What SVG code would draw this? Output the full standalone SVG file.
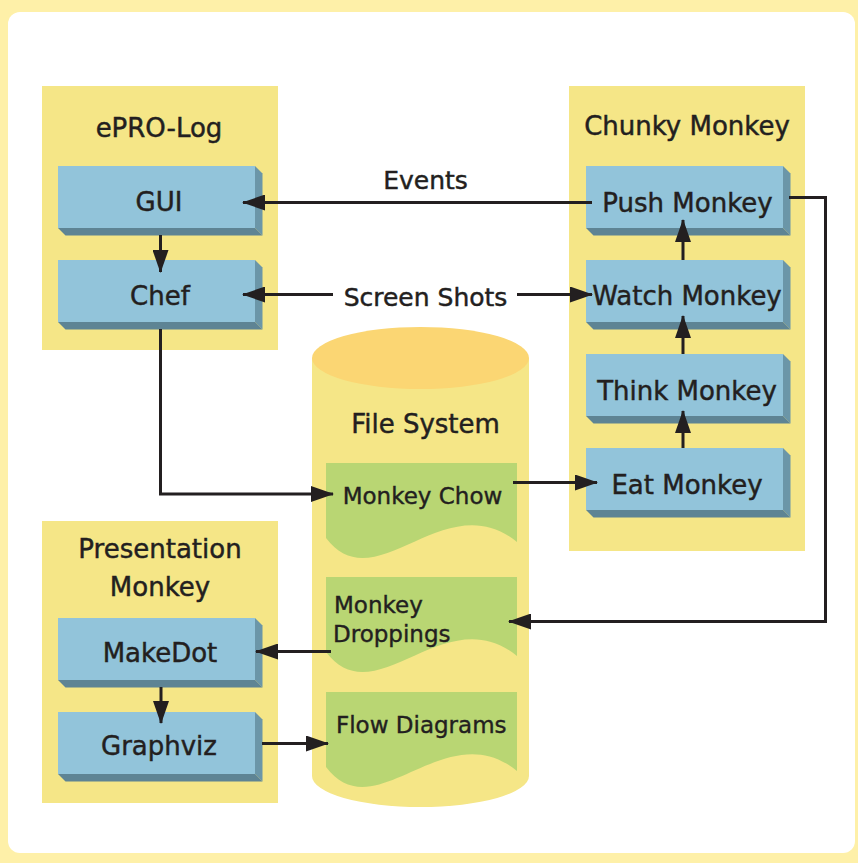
<svg xmlns="http://www.w3.org/2000/svg" width="858" height="863" viewBox="0 0 858 863">
<defs>
<style>
.panel{fill:#f5e687}
.front{fill:#92c4da}
.side{fill:#6b96a8}
.bot{fill:#5e8494}
.doc{fill:#b9d673}
.t{font-family:"DejaVu Sans",sans-serif;font-size:26px;fill:#231f20;stroke:#231f20;stroke-width:0.45;text-anchor:middle}
.tl{font-family:"DejaVu Sans",sans-serif;font-size:23px;fill:#231f20;stroke:#231f20;stroke-width:0.4}
.ca{stroke:#231f20;stroke-width:3;fill:none;marker-end:url(#ah)}
</style>
<marker id="ah" markerUnits="userSpaceOnUse" markerWidth="23" markerHeight="16" refX="22" refY="8" orient="auto" viewBox="0 0 23 16">
<path d="M0,0 L23,8 L0,16 Z" fill="#231f20"/>
</marker>
<g id="box3d">
<rect class="front" x="0" y="0" width="197" height="62"/>
<polygon class="side" points="197,0 204.5,7.5 204.5,69.5 197,62"/>
<polygon class="bot" points="0,62 197,62 204.5,69.5 7.5,69.5"/>
</g>
</defs>
<rect x="0" y="0" width="858" height="863" fill="#fef0a8"/>
<rect x="8" y="12" width="847" height="841" rx="12" fill="#ffffff"/>

<g id="epro-log">
<rect class="panel" x="42" y="86" width="236" height="264"/>
<text class="t" x="159" y="137">ePRO-Log</text>
</g>
<g id="chunky-monkey">
<rect class="panel" x="569" y="86" width="236" height="465"/>
<text class="t" x="687" y="135">Chunky Monkey</text>
</g>
<g id="presentation-monkey">
<rect class="panel" x="42" y="521" width="236" height="282"/>
<text class="t" x="160" y="558">Presentation</text>
<text class="t" x="160" y="596">Monkey</text>
</g>

<g id="file-system">
<path fill="#f5e687" d="M312,358 V776 A108.5,31 0 0 0 529,776 V358 Z"/>
<ellipse cx="420.5" cy="358" rx="108.5" ry="31" fill="#fbd673"/>
<text class="t" x="425.5" y="433">File System</text>
</g>

<g id="gui"><use href="#box3d" x="58" y="166"/><text class="t" x="159" y="211">GUI</text></g>
<g id="chef"><use href="#box3d" x="58" y="260"/><text class="t" x="160" y="305">Chef</text></g>
<g id="push-monkey"><use href="#box3d" x="586" y="166"/><text class="t" x="687.5" y="212">Push Monkey</text></g>
<g id="watch-monkey"><use href="#box3d" x="586" y="260"/><text class="t" x="687" y="305">Watch Monkey</text></g>
<g id="think-monkey"><use href="#box3d" x="586" y="354"/><text class="t" x="687" y="400">Think Monkey</text></g>
<g id="eat-monkey"><use href="#box3d" x="586" y="448"/><text class="t" x="687" y="494">Eat Monkey</text></g>
<g id="makedot"><use href="#box3d" x="58" y="618"/><text class="t" x="160" y="662">MakeDot</text></g>
<g id="graphviz"><use href="#box3d" x="58" y="712"/><text class="t" x="159" y="755">Graphviz</text></g>

<g id="monkey-chow">
<path class="doc" d="M326,463 H517 V542 C445,483 375,603 326,538 Z"/>
<text class="tl" x="422.5" y="504" text-anchor="middle">Monkey Chow</text>
</g>
<g id="monkey-droppings">
<path class="doc" d="M326,577 H517 V656 C445,597 375,717 326,652 Z"/>
<text class="tl" x="334" y="613">Monkey</text>
<text class="tl" x="333" y="642">Droppings</text>
</g>
<g id="flow-diagrams">
<path class="doc" d="M326,692 H517 V771 C445,712 375,832 326,767 Z"/>
<text class="tl" x="336" y="733">Flow Diagrams</text>
</g>

<g id="connectors">
<path class="ca" d="M592,202.5 H243"/>
<text class="t" x="425.5" y="189" style="font-size:25px">Events</text>
<path class="ca" d="M333,294.5 H243"/>
<path class="ca" d="M517,294.5 H592"/>
<text class="t" x="425.5" y="306" style="font-size:25px">Screen Shots</text>
<path class="ca" d="M160.5,235 V272"/>
<path class="ca" d="M160.5,329 V494 H333"/>
<path class="ca" d="M513,482.5 H597"/>
<path class="ca" d="M683,448 V411"/>
<path class="ca" d="M683,354 V316"/>
<path class="ca" d="M683,260 V220"/>
<path class="ca" d="M789,197.5 H825.5 V621.5 H509"/>
<path class="ca" d="M331,651.5 H256"/>
<path class="ca" d="M161,687 V723"/>
<path class="ca" d="M262,743.5 H328"/>
</g>
</svg>
